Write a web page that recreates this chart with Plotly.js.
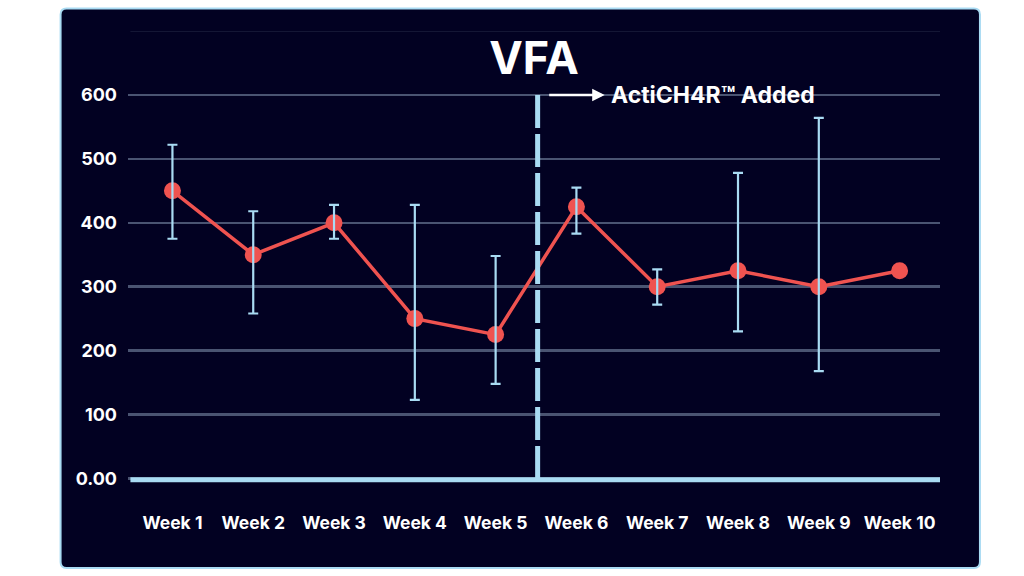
<!DOCTYPE html>
<html>
<head>
<meta charset="utf-8">
<script src="https://cdn.plot.ly/plotly-3.0.1.min.js"></script>
<style>
  html, body { margin: 0; padding: 0; background: #ffffff; }
  #chart { width: 1024px; height: 576px; }
</style>
</head>
<body>
<div id="chart"></div>
<script>
// ---- data ----
const weeks = ["Week 1", "Week 2", "Week 3", "Week 4", "Week 5", "Week 6", "Week 7", "Week 8", "Week 9", "Week 10"];
const vfa = [450, 350, 400, 250, 225, 425, 300, 325, 300, 325];
const errWeeks = ["Week 1", "Week 2", "Week 3", "Week 4", "Week 5", "Week 6", "Week 7", "Week 8", "Week 9"];
const errVals = [450, 350, 400, 250, 225, 425, 300, 325, 300];
const errPlus = [72, 68, 28, 178, 123, 30, 27, 153, 264];
const errMinus = [75, 92, 25, 127, 77, 42, 28, 95, 132];
const yTickVals = [0, 100, 200, 300, 400, 500, 600];
const yTickText = ["0.00", "100", "200", "300", "400", "500", "600"];
const titleText = "VFA";
const noteText = "ActiCH4R™ Added";

const navy = "#020122";
const lightBlue = "#a9dbf3";
const red = "#ef5350";
const font = "Inter, Lato, 'Open Sans', sans-serif";

// rounded panel path in paper coords
const L = 127.5, R = 1024 - 83.5, T = 31.4, B = 576 - 88.4;
const W = R - L, H = B - T;
function px(x) { return (x - L) / W; }
function py(y) { return (B - y) / H; }
const pl = 60, pr = 980.5, pt = 9, pb = 567.5, rad = 6;
const panelPath =
  `M ${px(pl + rad)} ${py(pt)} L ${px(pr - rad)} ${py(pt)} Q ${px(pr)} ${py(pt)} ${px(pr)} ${py(pt + rad)} ` +
  `L ${px(pr)} ${py(pb - rad)} Q ${px(pr)} ${py(pb)} ${px(pr - rad)} ${py(pb)} ` +
  `L ${px(pl + rad)} ${py(pb)} Q ${px(pl)} ${py(pb)} ${px(pl)} ${py(pb - rad)} ` +
  `L ${px(pl)} ${py(pt + rad)} Q ${px(pl)} ${py(pt)} ${px(pl + rad)} ${py(pt)} Z`;

const traces = [
  {
    type: "scatter",
    mode: "lines+markers",
    x: weeks,
    y: vfa,
    line: { color: red, width: 3.5 },
    marker: { color: red, size: 17 },
    hoverinfo: "x+y",
    showlegend: false
  },
  {
    type: "scatter",
    mode: "markers",
    x: errWeeks,
    y: errVals,
    marker: { color: "rgba(0,0,0,0)", size: 1 },
    error_y: {
      type: "data",
      symmetric: false,
      array: errPlus,
      arrayminus: errMinus,
      color: lightBlue,
      thickness: 2.2,
      width: 5
    },
    hoverinfo: "skip",
    showlegend: false
  }
];

const layout = {
  width: 1024,
  height: 576,
  margin: { l: L, r: 1024 - R, t: T, b: 576 - B, pad: 0 },
  paper_bgcolor: "#ffffff",
  plot_bgcolor: "rgba(0,0,0,0)",
  showlegend: false,
  title: {
    text: titleText,
    x: 534 / 1024,
    xanchor: "center",
    xref: "container",
    y: 1 - 58 / 576,
    yanchor: "middle",
    yref: "container",
    font: { family: font, size: 45, color: "#ffffff", weight: 700 }
  },
  xaxis: {
    type: "category",
    range: [-0.55, 9.5],
    showgrid: false,
    zeroline: false,
    showline: false,
    ticks: "",
    ticklabelstandoff: 22,
    tickfont: { family: font, size: 17.5, color: "#ffffff", weight: 700 },
    fixedrange: true
  },
  yaxis: {
    range: [-15, 700],
    tickvals: yTickVals,
    ticktext: yTickText,
    showgrid: true,
    gridcolor: "#4a5472",
    gridwidth: 2.5,
    zeroline: false,
    showline: false,
    ticks: "",
    ticklabelstandoff: 10,
    tickfont: { family: font, size: 18, color: "#ffffff", weight: 700 },
    fixedrange: true
  },
  shapes: [
    {
      type: "path", xref: "paper", yref: "paper", layer: "below",
      path: panelPath,
      fillcolor: navy,
      line: { color: lightBlue, width: 2 }
    },
    {
      type: "line", xref: "x", yref: "y", layer: "below",
      x0: -0.52, x1: 9.5, y0: 700, y1: 700,
      line: { color: "#1b1e3c", width: 1.5 }
    },
    {
      type: "line", xref: "x", yref: "y", layer: "above",
      x0: -0.52, x1: 9.5, y0: -2, y1: -2,
      line: { color: lightBlue, width: 5 }
    },
    {
      type: "line", xref: "x", yref: "y", layer: "above",
      x0: 4.52, x1: 4.52, y0: 600, y1: -2,
      line: { color: lightBlue, width: 5, dash: "33px,6px" }
    }
  ],
  annotations: [
    {
      xref: "x", yref: "y",
      x: 5.35, y: 600,
      ax: -57, ay: 0,
      text: "",
      showarrow: true,
      arrowhead: 2,
      arrowsize: 1,
      arrowwidth: 2.5,
      arrowcolor: "#ffffff"
    },
    {
      xref: "x", yref: "y",
      x: 5.4, y: 600,
      xanchor: "left", yanchor: "middle",
      text: noteText,
      showarrow: false,
      font: { family: font, size: 23, color: "#ffffff", weight: 700 }
    }
  ]
};

Plotly.newPlot("chart", traces, layout, { displayModeBar: false, staticPlot: true });
</script>
</body>
</html>
